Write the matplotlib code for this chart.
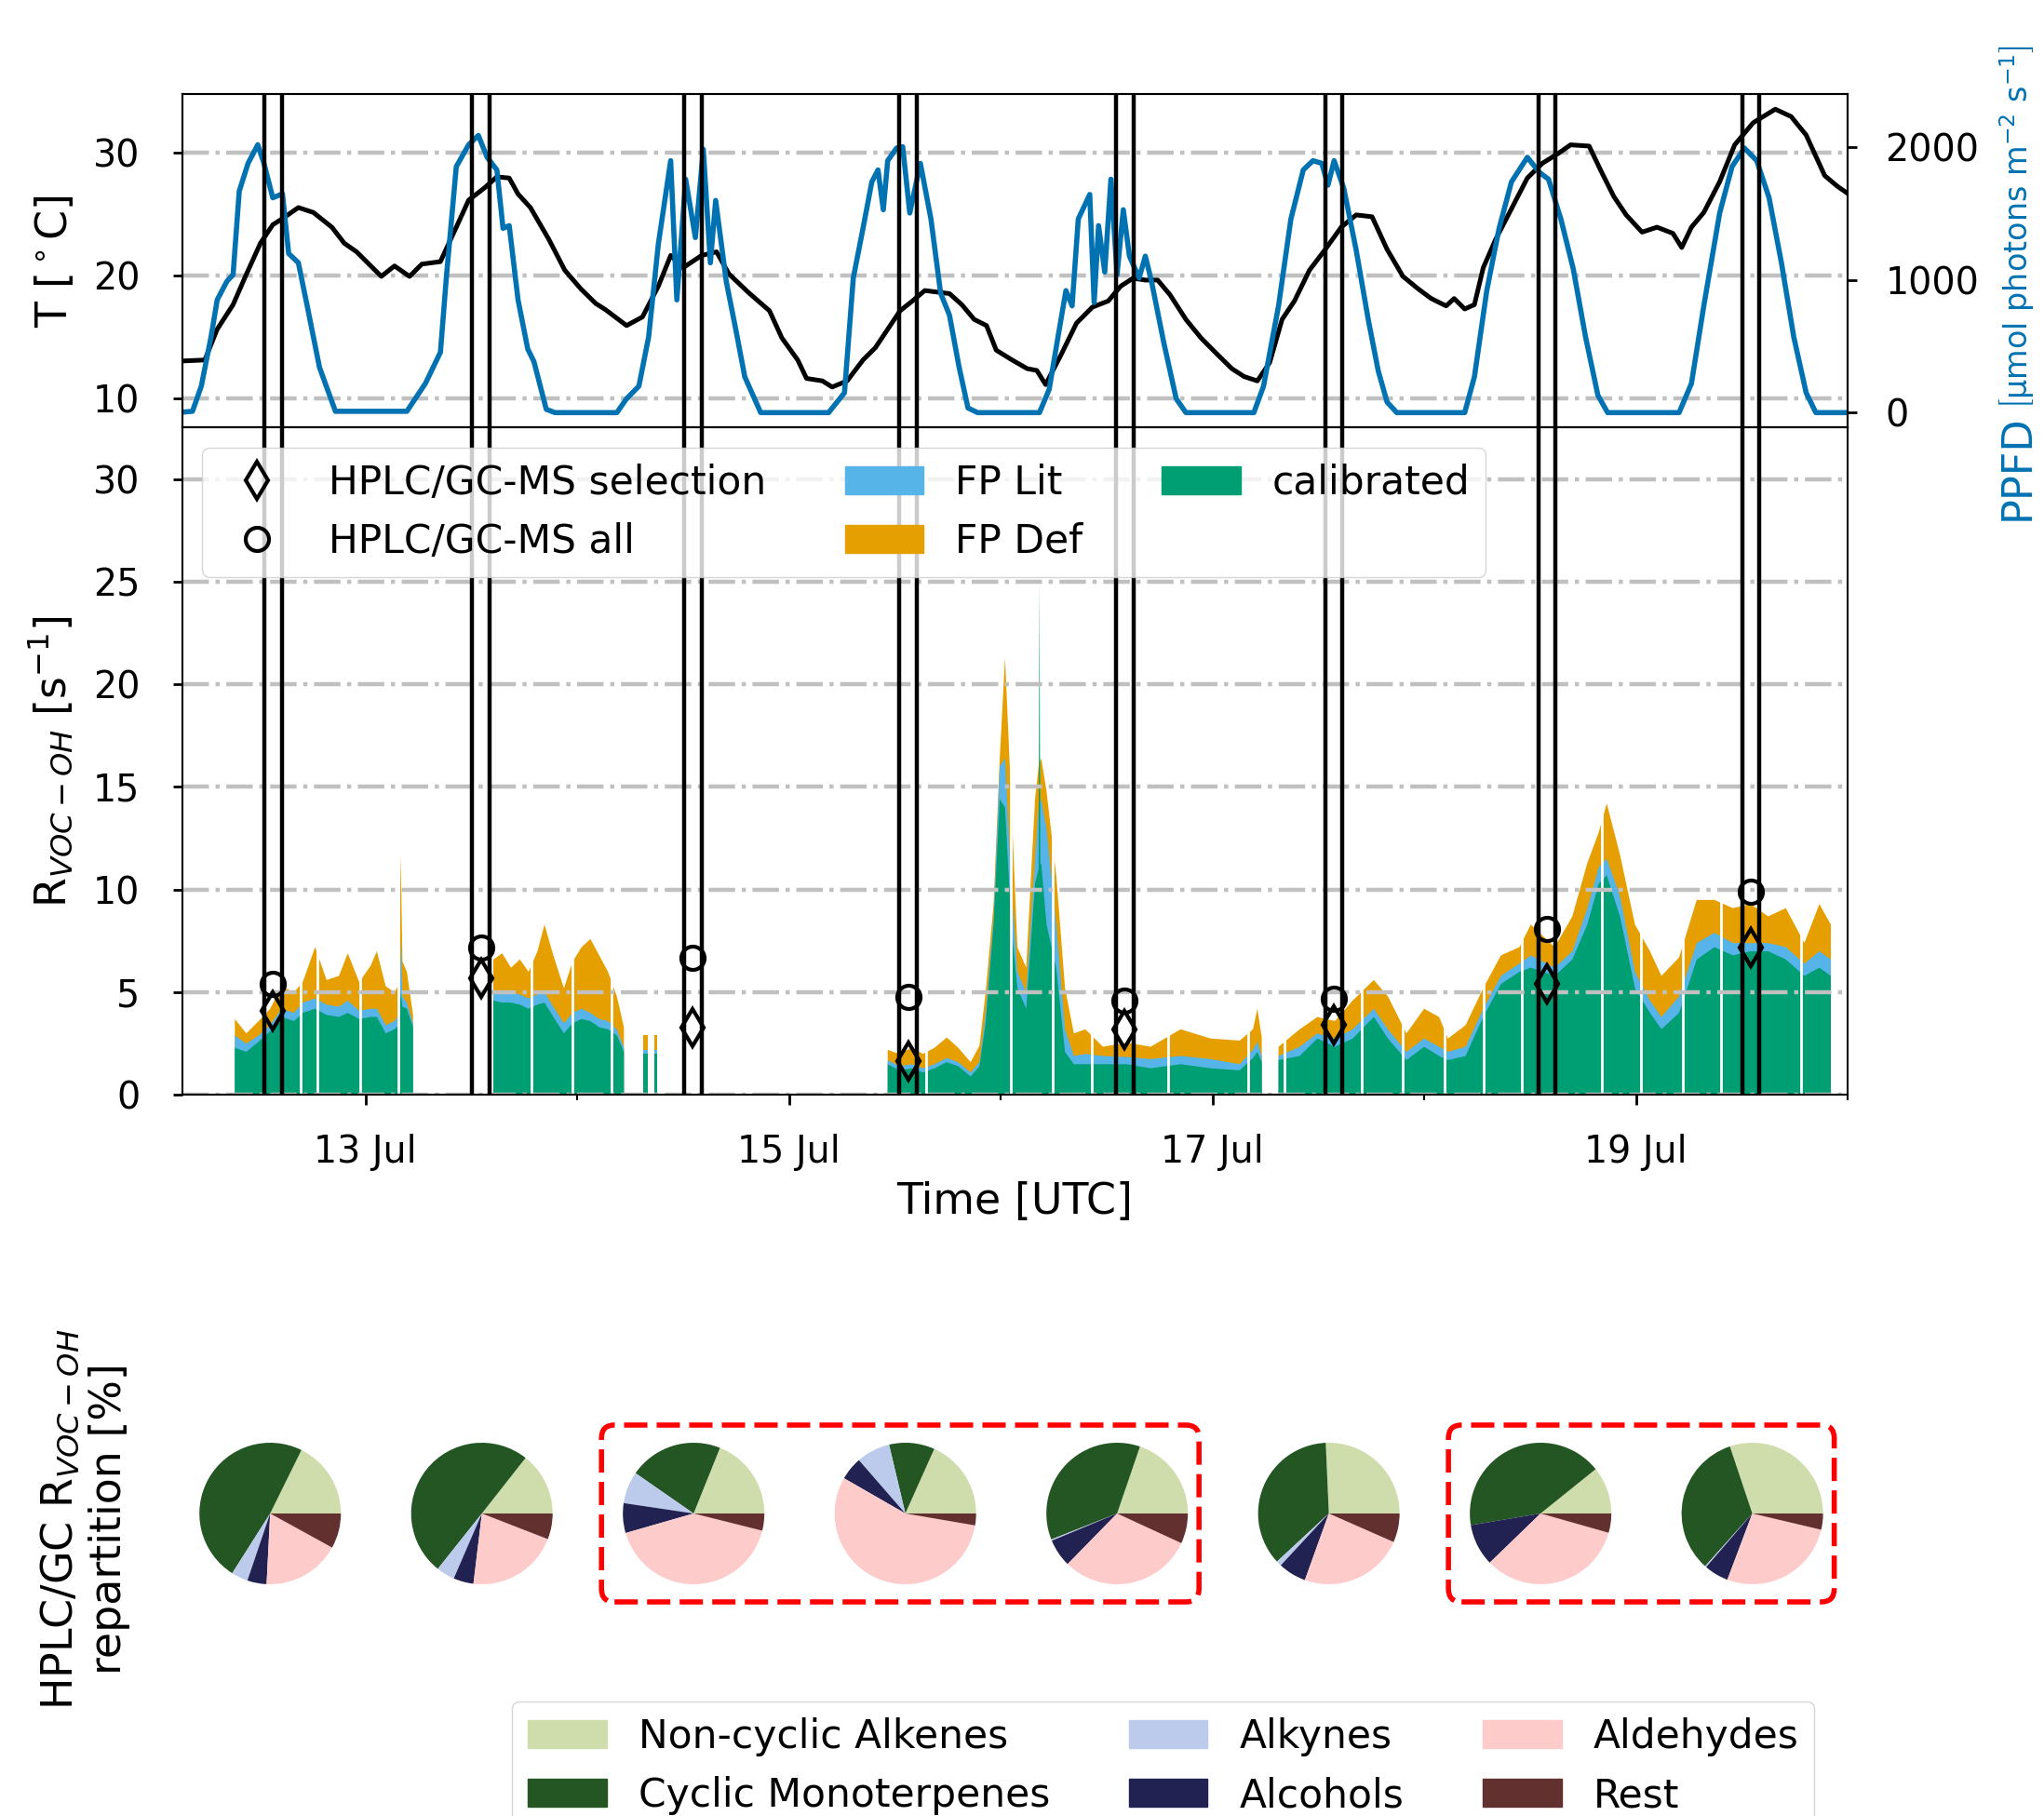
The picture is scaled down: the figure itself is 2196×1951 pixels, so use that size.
import numpy as np
import matplotlib
matplotlib.use('Agg')
import matplotlib.pyplot as plt
import matplotlib.dates as mdates
from matplotlib.patches import Patch, FancyBboxPatch
from matplotlib.lines import Line2D
from matplotlib.transforms import IdentityTransform

# ---- data (hours since 12 Jul 00:00 UTC) ----
t_hours = [2.6, 5.8, 7.2, 9.0, 10.4, 12.1, 13.5, 14.6, 16.4, 18.1, 20.2, 21.6, 23.0, 24.4, 25.8, 27.3,
           29.0, 30.4, 32.5, 34.3, 35.7, 37.5, 38.9, 40.3, 41.3, 42.7, 44.8, 46.6, 48.4, 50.1, 51.2,
           53.6, 55.4, 57.2, 58.6, 60.0, 62.1, 63.8, 65.2, 67.4, 69.8, 71.2, 73.0, 74.0, 75.8, 76.9,
           78.6, 80.4, 81.8, 83.2, 84.6, 86.0, 87.4, 90.2, 91.6, 93.0, 94.4, 95.5, 97.3, 99.0, 100.1,
           101.1, 102.9, 104.6, 106.4, 108.2, 109.6, 111.0, 112.4, 113.8, 115.2, 117.0, 118.7, 120.5,
           122.2, 123.6, 125.1, 126.5, 127.9, 129.3, 131.0, 132.8, 134.6, 136.3, 138.1, 139.8, 141.6,
           143.3, 144.8, 146.5, 147.4, 148.6, 149.7, 150.7, 152.1, 153.9, 155.7, 157.4, 159.2, 160.6,
           162.7, 164.1, 165.5, 166.9, 168.7, 170.4, 172.2, 173.2, 174.3, 175.7, 177.5, 179.2, 181.3,
           183.8, 185.6, 187.3, 189.4, 190.8, 192.1]
temp = [13.0, 13.1, 15.6, 17.6, 19.9, 22.6, 24.1, 24.6, 25.5, 25.1, 23.9, 22.6, 21.9, 20.9, 19.9, 20.75,
        19.9, 20.9, 21.1, 23.9, 26.1, 27.1, 28.0, 27.9, 26.6, 25.5, 22.9, 20.4, 18.9, 17.7, 17.2,
        15.9, 16.6, 19.1, 21.6, 20.6, 21.6, 21.9, 20.1, 18.6, 17.1, 14.9, 13.1, 11.6, 11.4, 10.9,
        11.4, 13.1, 14.1, 15.6, 17.1, 17.9, 18.75, 18.5, 17.6, 16.4, 15.9, 13.9, 13.1, 12.4, 12.25,
        11.1, 13.6, 16.1, 17.4, 17.9, 19.1, 19.75, 19.6, 19.6, 18.4, 16.4, 14.9, 13.6,
        12.4, 11.75, 11.4, 12.9, 16.4, 17.9, 20.4, 22.1, 23.9, 24.9, 24.75, 22.1, 19.9,
        18.9, 18.1, 17.5, 18.1, 17.25, 17.6, 20.6, 22.9, 25.4, 27.9, 29.1, 29.9, 30.6,
        30.5, 28.4, 26.4, 24.9, 23.5, 23.9, 23.4, 22.25, 23.9, 25.1, 27.6, 30.6, 32.4,
        33.5, 32.9, 31.4, 28.1, 27.25, 26.6]

ppfd_hours = [2.6, 4.4, 5.4, 6.5, 7.2, 8.3, 9.0, 9.7, 10.7, 11.8, 12.5, 13.5, 14.6, 15.3, 16.4, 17.4,
              18.8, 20.6, 28.7, 30.8, 32.5, 33.2, 34.3, 35.7, 36.8, 37.8, 38.9, 39.6, 40.3, 41.3,
              42.4, 43.1, 44.5, 45.5, 52.5, 53.6, 55.0, 56.1, 57.2, 58.6, 59.3, 60.3, 61.4, 62.3,
              63.1, 63.7, 64.9, 66.0, 67.0, 68.8, 76.5, 78.3, 79.3, 80.4, 81.4, 82.1, 82.7, 83.2,
              84.2, 84.9, 85.7, 86.9, 88.1, 89.2, 90.2, 91.3, 92.3, 93.4, 100.4, 101.5, 102.5,
              103.4, 104.1, 104.8, 106.1, 106.6, 107.1, 107.8, 108.5, 109.2, 109.9, 110.6, 111.7,
              112.4, 113.1, 114.5, 115.9, 117.0, 124.7, 125.8, 127.5, 128.9, 130.3, 131.4, 132.4,
              133.1, 133.8, 134.9, 136.3, 137.7, 138.8, 139.8, 140.9, 148.6, 149.7, 151.1, 152.5,
              153.9, 155.7, 157.1, 158.1, 159.5, 160.9, 162.3, 163.7, 164.8, 172.9, 174.3, 175.7,
              177.5, 178.9, 180.3, 181.7, 183.1, 184.5, 185.9, 187.3, 188.4, 192.1]
ppfd = [0, 10, 200, 570, 850, 990, 1040, 1670, 1880, 2020, 1880, 1620, 1650, 1200, 1130, 805,
        340, 10, 10, 220, 455, 1040, 1855, 2020, 2090, 1925, 1830, 1390, 1410, 850,
        480, 385, 25, 0, 0, 105, 200, 570, 1270, 1900, 850, 1760, 1320, 1985,
        1130, 1600, 990, 620, 270, 0, 0, 150, 1015, 1390, 1740, 1830, 1530, 1900,
        1995, 2005, 1505, 1880, 1460, 900, 735, 340, 35, 0, 0, 175, 570,
        920, 805, 1460, 1645, 830, 1410, 1060, 1760, 1040, 1530, 1180, 1015,
        1180, 990, 525, 105, 0, 0, 200, 805, 1460, 1830, 1900, 1880,
        1715, 1900, 1690, 1225, 690, 315, 80, 0, 0, 270, 920, 1390,
        1740, 1925, 1810, 1760, 1460, 1085, 570, 130, 0, 0, 220, 805,
        1505, 1855, 1995, 1900, 1620, 1130, 570, 150, 0, 0]

nan = np.nan
area_hours = [9.2, 10.5, 11.9, 13.2, 14.5, 15.9, 16.9, 18.3, 19.6, 21.0, 22.0, 23.3, 24.6, 25.3, 26.3,
              27.3, 27.8, 28.0, 28.2, 28.7, 29.4, 30.0,
              38.5, 39.5, 40.5, 41.5, 42.5, 43.5, 44.3, 45.3, 46.5, 47.5, 48.5, 49.5, 50.5, 51.5,
              52.5, 53.3, 54.5, 55.5, 56.0, 56.3, 56.7, 57.1, 60.0,
              83.2, 84.5, 85.9, 87.2, 88.5, 89.9, 91.2, 92.6, 93.6, 94.3, 95.2, 95.9, 96.5, 97.2,
              97.9, 98.9, 99.9, 100.3, 100.4, 100.5, 100.6, 101.2, 102.3, 103.3, 104.3, 105.6,
              107.6, 110.3, 113.0, 116.4, 119.8, 123.1, 124.6, 125.1, 125.6, 126.5,
              127.5, 129.9, 131.9, 133.9, 135.9, 138.3, 139.9, 142.0, 144.0, 145.7, 146.7, 148.7,
              150.7, 152.7, 154.8, 156.1, 158.8, 160.8, 162.5, 163.8, 164.7, 166.2, 167.9, 169.6,
              170.9, 172.9, 174.9, 176.9, 179.0, 181.0, 183.0, 185.0, 187.1, 188.8, 190.1]
fp_def = [3.7, 3.0, 3.6, 4.2, 5.3, 5.0, 5.5, 7.2, 5.6, 5.8, 6.9, 5.5, 6.3, 7.0, 5.3,
          5.0, 5.4, 11.7, 6.5, 6.0, 3.9, nan,
          6.6, 6.9, 6.2, 6.6, 6.0, 7.0, 8.3, 6.8, 5.2, 6.5, 7.2, 7.6, 6.8, 6.0,
          4.8, 3.3, nan, 2.9, 2.9, nan, 2.9, 2.9, nan,
          2.2, 2.0, 2.3, 2.0, 2.3, 2.8, 2.3, 1.6, 2.4, 5.0, 9.3, 16.4, 21.3, 14.4,
          7.2, 6.2, 14.4, 16.0, 16.2, 16.3, 16.4, 14.8, 10.7, 5.2, 3.0, 3.2,
          2.35, 2.55, 2.35, 3.2, 2.75, 2.65, 3.2, 4.2, 2.8, nan,
          2.35, 3.2, 3.8, 3.6, 4.6, 5.6, 4.8, 3.0, 4.2, 3.8, 2.75, 3.4,
          5.2, 6.8, 7.2, 8.3, 7.2, 8.7, 11.3, 12.8, 14.2, 11.7, 8.3, 7.0,
          5.8, 6.7, 9.5, 9.5, 9.1, 9.3, 8.7, 9.1, 7.4, 9.3, 8.3]
fp_lit = [2.9, 2.5, 2.9, 3.4, 4.2, 4.0, 4.5, 4.7, 4.4, 4.3, 4.6, 4.1, 4.2, 4.2, 3.4,
          3.6, 3.9, 7.5, 4.8, 4.5, 3.5, nan,
          5.0, 5.0, 5.0, 4.9, 4.7, 4.9, 5.0, 4.3, 3.5, 4.0, 4.2, 4.0, 3.7, 3.6,
          3.2, 2.3, nan, 2.2, 2.2, nan, 2.2, 2.2, nan,
          1.7, 1.4, 1.5, 1.3, 1.5, 1.8, 1.6, 1.1, 1.6, 4.0, 8.6, 16.0, 16.4, 10.3,
          6.0, 5.0, 11.5, 14.0, 14.2, 14.3, 14.4, 13.0, 8.3, 3.2, 1.9, 2.0,
          1.9, 1.85, 1.75, 1.9, 1.75, 1.5, 2.2, 2.6, 1.9, nan,
          1.9, 2.35, 3.0, 2.75, 3.2, 4.2, 3.2, 2.1, 2.75, 2.35, 2.1, 2.35,
          4.2, 5.8, 6.4, 6.8, 6.2, 7.0, 9.1, 11.1, 11.5, 9.7, 6.0, 4.6,
          3.8, 4.8, 7.4, 7.9, 7.4, 7.4, 7.4, 7.2, 6.4, 7.0, 6.6]
calib = [2.3, 2.1, 2.6, 3.1, 3.8, 3.6, 4.0, 4.2, 3.9, 3.8, 4.0, 3.7, 3.8, 3.8, 3.0,
         3.2, 3.4, 5.0, 4.3, 4.2, 3.3, nan,
         4.6, 4.5, 4.5, 4.4, 4.2, 4.4, 4.5, 3.8, 3.0, 3.5, 3.7, 3.6, 3.3, 3.2,
         2.9, 2.1, nan, 2.0, 2.0, nan, 2.0, 2.0, nan,
         1.5, 1.2, 1.3, 1.1, 1.3, 1.6, 1.4, 0.9, 1.4, 3.5, 8.3, 14.4, 14.0, 8.3,
         5.2, 4.2, 10.3, 11.0, 25.0, 11.2, 11.3, 8.3, 6.2, 2.1, 1.5, 1.5,
         1.5, 1.5, 1.3, 1.5, 1.3, 1.2, 1.8, 2.1, 1.6, nan,
         1.7, 1.9, 2.75, 2.35, 2.75, 3.8, 2.75, 1.7, 2.35, 1.9, 1.7, 1.9,
         3.8, 5.4, 6.0, 6.2, 5.8, 6.6, 8.3, 10.3, 10.7, 8.7, 5.2, 4.0,
         3.2, 4.0, 6.6, 7.2, 6.8, 7.0, 7.0, 6.6, 5.8, 6.2, 5.8]
gap_hours = [16.7, 18.6, 23.4, 27.7, 42.8, 47.5, 51.9, 87.6, 97.2, 101.9, 106.3, 115.0, 124.1,
             128.2, 136.9, 141.6, 146.3, 150.7, 155.1, 164.2, 168.6, 173.3, 177.6, 182.0, 186.7]

sample_start = [12.5, 36.1, 60.1, 84.5, 109.1, 132.8, 157.0, 180.1]
sample_end = [14.5, 38.1, 62.1, 86.5, 111.05, 134.7, 158.9, 182.0]
gc_all = [5.4, 7.2, 6.7, 4.8, 4.6, 4.7, 8.1, 9.9]
gc_sel = [4.1, 5.7, 3.3, 1.65, 3.2, 3.4, 5.4, 7.2]

classes = ['Non-cyclic Alkenes', 'Cyclic Monoterpenes', 'Alkynes', 'Alcohols', 'Aldehydes', 'Rest']
non_cyclic = [17.7, 14.4, 18.9, 18.3, 19.8, 25.7, 10.8, 30.2]
cyclic = [48.3, 49.9, 21.4, 10.4, 36.3, 36.2, 41.9, 33.3]
alkynes = [3.8, 4.2, 7.3, 7.7, 0.3, 1.2, 0.0, 0.3]
alcohols = [4.4, 4.6, 6.8, 5.3, 6.4, 6.4, 9.6, 5.6]
aldehydes = [17.8, 21.0, 41.6, 55.6, 30.5, 23.9, 33.4, 27.1]
rest = [8.0, 5.9, 3.9, 2.7, 6.9, 6.6, 4.4, 3.7]
highlight = [(2, 4), (6, 7)]

# ---- style ----
plt.rcParams['font.size'] = 28.5
blue = '#0072B2'
c_lit, c_def, c_cal = '#56B4E9', '#E69F00', '#009E73'
pie_colors = ['#cfdcab', '#245623', '#bccbeb', '#212152', '#fecbcb', '#633030']
grid_kw = dict(axis='y', ls='-.', lw=3.2, color='#c0c0c0')

base = mdates.date2num(np.datetime64('2021-07-12T00:00'))
def tx(h):
    return base + np.asarray(h, dtype=float) / 24.0

W, H = 2196, 1951
fig = plt.figure(figsize=(W / 100, H / 100), dpi=100)
ax_t = fig.add_axes([196 / W, 1 - 459.4 / H, 1789 / W, 358.6 / H])
ax_r = fig.add_axes([196 / W, 1 - 1176.4 / H, 1789 / W, 717 / H], sharex=ax_t)
ax_p = ax_t.twinx()

# top panel: temperature + PPFD
ax_t.plot(tx(t_hours), temp, color='k', lw=3.6)
ax_p.plot(tx(ppfd_hours), ppfd, color=blue, lw=4)
ax_t.set_ylim(7.6, 34.75)
ax_p.set_ylim(-113, 2404)
ax_t.set_yticks([10, 20, 30])
ax_p.set_yticks([0, 1000, 2000])
ax_t.grid(**grid_kw)
ax_t.set_ylabel(r'T [$^\circ$C]', fontsize=33)
ax_t.yaxis.set_label_coords(-0.064, 0.5)
ax_p.text(1.102, -0.12, 'PPFD', transform=ax_p.transAxes, rotation=90,
          ha='center', va='center', color=blue, fontsize=32)
ax_p.text(1.102, 0.60, r'$\left[\mathrm{\mu mol\ photons\ m^{-2}\ s^{-1}}\right]$',
          transform=ax_p.transAxes, rotation=90, ha='center', va='center',
          color=blue, fontsize=24)

# bottom panel: reactivity
ax_r.fill_between(tx(area_hours), 0, fp_def, color=c_def, lw=0)
ax_r.fill_between(tx(area_hours), 0, fp_lit, color=c_lit, lw=0)
ax_r.fill_between(tx(area_hours), 0, calib, color=c_cal, lw=0)
ax_r.vlines(tx(gap_hours), 0, 26, colors='white', lw=2, zorder=1.2)
ax_r.grid(**grid_kw)
ax_r.set_ylim(0, 32.5)
ax_r.set_yticks(np.arange(0, 31, 5))
ax_r.set_ylabel(r'R$_{VOC-OH}$ [s$^{-1}$]', fontsize=33)
ax_r.yaxis.set_label_coords(-0.064, 0.5)
ax_r.set_xlabel('Time [UTC]', fontsize=33, labelpad=8)

for s, e in zip(sample_start, sample_end):
    for t in (s, e):
        ax_p.axvline(tx(t), color='k', lw=3.2, zorder=3)
        ax_r.axvline(tx(t), color='k', lw=3.2, zorder=3)

mid = [(s + e) / 2 for s, e in zip(sample_start, sample_end)]
ax_r.plot(tx(mid), gc_all, 'o', ls='none', mfc='none', mec='k', ms=18, mew=3, zorder=4)
ax_r.plot(tx(mid), gc_sel, 'd', ls='none', mfc='none', mec='k', ms=20, mew=3, zorder=4)

handles = [Line2D([], [], marker='d', ls='none', mfc='none', mec='k', ms=20, mew=3,
                  label='HPLC/GC-MS selection'),
           Line2D([], [], marker='o', ls='none', mfc='none', mec='k', ms=18, mew=3,
                  label='HPLC/GC-MS all'),
           Patch(color=c_lit, label='FP Lit'),
           Patch(color=c_def, label='FP Def'),
           Patch(color=c_cal, label='calibrated')]
ax_r.legend(handles=handles, ncol=3, loc='upper left', fontsize=30.5)

# x axis: labels on odd days, minor ticks every day
ax_r.set_xlim(tx(3.26), tx(192.0))
ax_r.xaxis.set_major_locator(mdates.DayLocator(bymonthday=range(1, 32, 2)))
ax_r.xaxis.set_minor_locator(mdates.DayLocator())
ax_r.xaxis.set_major_formatter(mdates.DateFormatter('%d %b'))
ax_t.tick_params(labelbottom=False)
for a in (ax_t, ax_r):
    a.tick_params(axis='x', which='major', length=8, width=2, pad=22)
    a.tick_params(axis='x', which='minor', length=4, width=1.5)
    a.tick_params(axis='y', length=7, width=2, pad=26)
ax_p.tick_params(axis='y', length=7, width=2, pad=22)
for a in (ax_t, ax_r, ax_p):
    for sp in a.spines.values():
        sp.set_linewidth(1.5)

# pies
shares = np.array([non_cyclic, cyclic, alkynes, alcohols, aldehydes, rest])
pie_hours = 13.2 + 24 * np.arange(shares.shape[1])
pie_cy = H - 1626
size = 190
centers = []
for i, h in enumerate(pie_hours):
    cx = ax_r.transData.transform((tx(h), 0))[0]
    centers.append(cx)
    pax = fig.add_axes([(cx - size / 2) / W, (pie_cy - size / 2) / H, size / W, size / H])
    pax.pie(shares[:, i], colors=pie_colors, startangle=0, counterclock=True)

for a, b in highlight:
    x0 = centers[a] - 99
    x1 = centers[b] + 88
    box = FancyBboxPatch((x0, pie_cy - 95), x1 - x0, 190,
                         boxstyle='round,pad=0,rounding_size=14',
                         fc='none', ec='red', lw=4, ls=(0, (4.5, 1.8)),
                         transform=IdentityTransform())
    fig.add_artist(box)

fig.text(91 / W, 1 - 1632 / H, 'HPLC/GC R$_{VOC-OH}$\nrepartition [%]', rotation=90,
         ha='center', va='center', multialignment='center', fontsize=33)

class_handles = [Patch(color=c, label=l) for c, l in zip(pie_colors, classes)]
fig.legend(handles=class_handles, ncol=3, loc='upper left',
           bbox_to_anchor=(550 / W, 1 - 1828 / H), borderaxespad=0., fontsize=30.5)

fig.savefig('out.png', dpi=100)
